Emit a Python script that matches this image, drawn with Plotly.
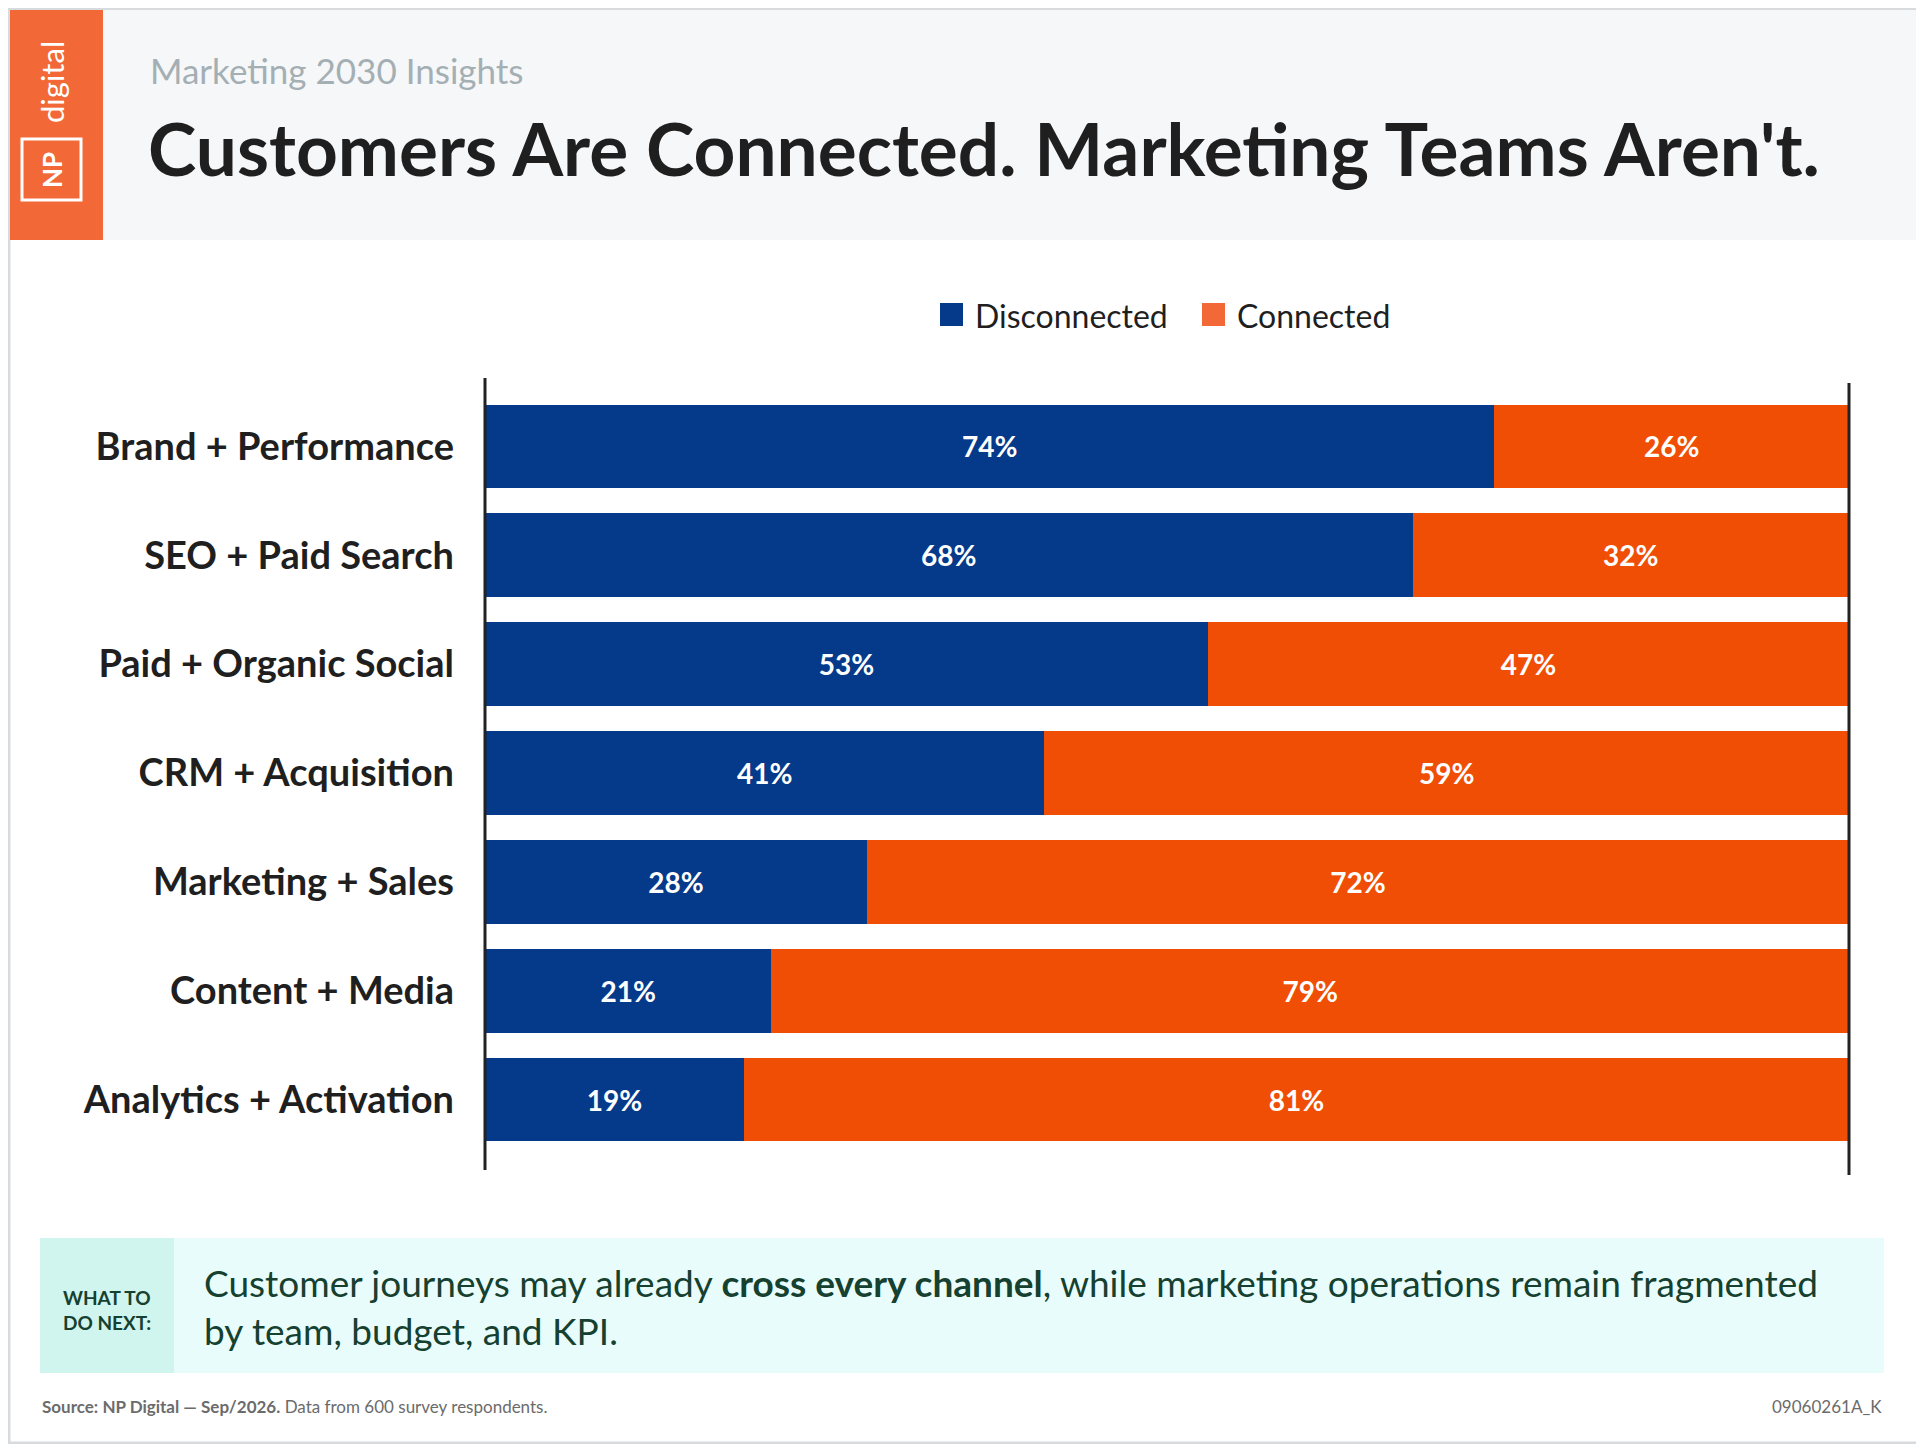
import plotly.graph_objects as go

W, H = 1924, 1444
OFF = 8  # the page puts the figure 8px in from the top-left corner
ML, MR, MT, MB = 485 - OFF, 75 + OFF, 392 - OFF, 290 + OFF

categories = ["Brand + Performance", "SEO + Paid Search", "Paid + Organic Social",
              "CRM + Acquisition", "Marketing + Sales", "Content + Media",
              "Analytics + Activation"]
disconnected = [74, 68, 53, 41, 28, 21, 19]
connected = [26, 32, 47, 59, 72, 79, 81]
series_names = ["Disconnected", "Connected"]

BLUE = "#05398a"
ORANGE = "#f04e05"
FONT = "Lato"


# paper coords are relative to the plot area, so convert from page pixels
def px_x(v):
    return (v - OFF - ML) / (W - ML - MR)


def px_y(v):
    return (H - MB - (v - OFF)) / (H - MT - MB)


fig = go.Figure()
for name, vals, col in [(series_names[0], disconnected, BLUE),
                        (series_names[1], connected, ORANGE)]:
    fig.add_trace(go.Bar(
        y=categories, x=vals, name=name, orientation="h",
        marker=dict(color=col, line=dict(width=0)),
        text=[f"{v}%" for v in vals], textposition="inside",
        insidetextanchor="middle", showlegend=False,
        textfont=dict(color="white", size=28, family=FONT, weight="bold"),
    ))


def rect(x0, y0, x1, y1, **kw):
    d = dict(type="rect", xref="paper", yref="paper", x0=px_x(x0), x1=px_x(x1),
             y0=px_y(y1), y1=px_y(y0), line=dict(width=0))
    d.update(kw)
    return d


shapes = [
    rect(9, 9, 1923, 1443, line=dict(color="#d8dbde", width=3),
         fillcolor="rgba(0,0,0,0)", layer="below"),
    rect(10, 10, 1922, 240, fillcolor="#f6f7f9", layer="below"),
    rect(10, 10, 103, 240, fillcolor="#f26836", layer="below"),
    rect(22, 139, 81, 200, line=dict(color="white", width=3), fillcolor="rgba(0,0,0,0)"),
    dict(type="line", xref="paper", yref="paper", x0=px_x(485), x1=px_x(485),
         y0=px_y(1170), y1=px_y(378), line=dict(color="#222", width=3)),
    dict(type="line", xref="paper", yref="paper", x0=px_x(1849), x1=px_x(1849),
         y0=px_y(1175), y1=px_y(383), line=dict(color="#222", width=3)),
    rect(40, 1238, 1884, 1373, fillcolor="#e8fdfb", layer="below"),
    rect(40, 1238, 174, 1373, fillcolor="#cff5ee", layer="below"),
    # legend swatches
    rect(940, 303, 963, 326, fillcolor=BLUE),
    rect(1202, 303, 1225, 326, fillcolor="#f26836"),
]

annotations = [
    dict(text="<b>NP</b>", x=px_x(52), y=px_y(170), textangle=-90,
         font=dict(size=26, color="white", family=FONT)),
    dict(text="digital", x=px_x(52), y=px_y(82), textangle=-90,
         font=dict(size=31, color="white", family=FONT)),
    dict(text="Marketing 2030 Insights", x=px_x(148), y=px_y(70), xanchor="left",
         font=dict(size=35, color="#a4afb4", family=FONT)),
    dict(text="<b>Customers Are Connected. Marketing Teams Aren't.</b>", x=px_x(146),
         y=px_y(148), xanchor="left",
         font=dict(size=73, color="#1f1f1f", family=FONT)),
    dict(text=series_names[0], x=px_x(973), y=px_y(315), xanchor="left",
         font=dict(size=32, color="#1f1f1f", family=FONT)),
    dict(text=series_names[1], x=px_x(1235), y=px_y(315), xanchor="left",
         font=dict(size=32, color="#1f1f1f", family=FONT)),
    dict(text="<b>WHAT TO<br>DO NEXT:</b>", x=px_x(107), y=px_y(1310), align="left",
         font=dict(size=19, color="#16402f", family=FONT)),
    dict(text="Customer journeys may already <b>cross every channel</b>, while marketing "
              "operations remain fragmented<br>by team, budget, and KPI.",
         x=px_x(202), y=px_y(1306), xanchor="left", align="left",
         font=dict(size=37, color="#16402f", family=FONT)),
    dict(text="<b>Source: NP Digital — Sep/2026.</b> Data from 600 survey respondents.",
         x=px_x(40), y=px_y(1406), xanchor="left",
         font=dict(size=17, color="#6b6b6b", family=FONT)),
    dict(text="09060261A_K", x=px_x(1884), y=px_y(1406), xanchor="right",
         font=dict(size=17, color="#6b6b6b", family=FONT)),
]
for a in annotations:
    a["xref"] = "paper"
    a["yref"] = "paper"
    a["showarrow"] = False
    a["yanchor"] = "middle"
    a.setdefault("xanchor", "center")

fig.update_layout(
    width=W, height=H, barmode="stack", bargap=0.23,
    paper_bgcolor="white", plot_bgcolor="white",
    margin=dict(l=ML, r=MR, t=MT, b=MB),
    font=dict(family=FONT),
    showlegend=False,
    xaxis=dict(range=[0, 100], showgrid=False, showticklabels=False, zeroline=False,
               fixedrange=True),
    yaxis=dict(autorange="reversed", showgrid=False, zeroline=False, ticks="",
               ticklabelstandoff=30,
               tickfont=dict(size=38, color="#1f1f1f", family=FONT, weight="bold")),
    shapes=shapes, annotations=annotations,
)

fig.write_html("out.html")
